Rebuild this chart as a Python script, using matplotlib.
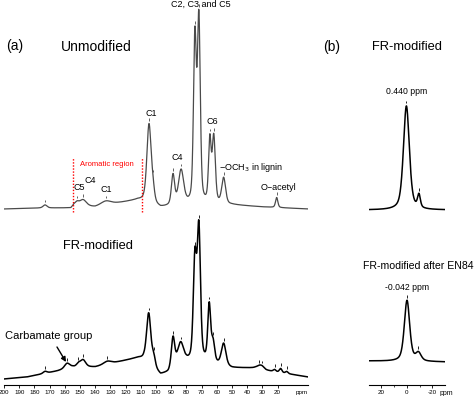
import numpy as np
import matplotlib.pyplot as plt

plt.rcParams['font.family'] = ['Liberation Sans', 'DejaVu Sans']

W, H = 474, 396

# ---- panel (a): 13C CP/MAS, unmodified (top trace) ----
unmod_base_ppm = [200, 175, 156, 154, 140, 125, 112, 108, 97, 92, 80, 68, 58, 50, 30, 0]
unmod_base_lvl = [176, 177, 177, 180, 178, 182, 185, 184, 177, 178, 180, 180, 180, 180, 178, 176]
unmod_pk_ppm = [173, 152, 148, 133, 104.6, 102, 88.8, 83.5, 74.4, 71.8, 64.6, 62.0, 55.5, 20.6]
unmod_pk_hgt = [3, 3, 6, 4, 78, 12, 30, 34, 164, 182, 62, 66, 26, 10]
unmod_pk_wid = [3, 3, 5, 8, 3.3, 2.5, 2.5, 4.0, 2.2, 2.2, 2.0, 2.4, 3.0, 1.8]
unmod_marks = [173, 152, 148, 133, 104.6, 102, 88.8, 83.5, 74.4, 71.8, 64.6, 62.0, 55.5, 20.6]

# ---- panel (a): FR-modified (bottom trace) ----
frm_base_ppm = [200, 185, 175, 165, 155, 140, 125, 112, 108, 97, 92, 86, 80, 68, 59, 50, 35, 25, 0]
frm_base_lvl = [6, 8, 11, 14, 18, 18, 23, 27, 26, 10, 12, 20, 23, 23, 20, 17, 17, 14, 8]
frm_pk_ppm = [173, 158.5, 151, 148, 132, 104.8, 101.5, 88.8, 83.8, 74.4, 71.8, 65.0, 62.5, 55.5, 32, 30, 22, 18, 14]
frm_pk_hgt = [2, 5, 3, 7, 3, 50, 10, 30, 20, 100, 130, 56, 20, 22, 3, 2, 2, 4, 2]
frm_pk_wid = [3, 4, 3, 4, 6, 3.3, 2.5, 2.6, 4.5, 2.5, 2.5, 2.2, 2.5, 3.5, 4, 3, 2, 2, 2]
frm_marks = [173, 158.5, 151, 148, 132, 104.8, 101.5, 88.8, 83.8, 74.4, 71.8, 65.0, 62.5, 55.5, 32, 30, 22, 18, 14]

# ---- panel (b): 31P, FR-modified and after EN84 ----
p_top_base_ppm = [30, -30]
p_top_base_lvl = [175, 175]
p_top_pk_ppm = [0.44, -9.4]
p_top_pk_hgt = [104, 13]
p_top_pk_wid = [5.5, 2.6]
p_top_marks = [0.44, -9.4]

p_bot_base_ppm = [30, -30]
p_bot_base_lvl = [24, 23]
p_bot_pk_ppm = [-0.042, -9.0]
p_bot_pk_hgt = [61, 8]
p_bot_pk_wid = [5, 5]
p_bot_marks = [-0.042, -9.0]

a_ticks = list(range(200, 10, -10))
b_ticks = [20, 0, -20]


def spectrum(x, base_ppm, base_lvl, pk_ppm, pk_hgt, pk_wid, eta=0.4):
    x = np.asarray(x, dtype=float)
    y = np.interp(x, base_ppm[::-1], base_lvl[::-1])
    for p, h, w in zip(pk_ppm, pk_hgt, pk_wid):
        d = (x - p) / (w / 2)
        y = y + h * ((1 - eta) * 2 ** (-d ** 2) + eta / (1 + d ** 2))
    return y


def draw_trace(ax, x, args, marks, color, lw, eta=0.4):
    ax.plot(x, spectrum(x, *args, eta=eta), color=color, lw=lw)
    ym = spectrum(marks, *args, eta=eta)
    ax.vlines(marks, ym + 2.5, ym + 5, color=color, lw=0.6)


def fx(px):
    return px / W


def fy(py):
    return 1 - py / H


fig = plt.figure(figsize=(W / 100, H / 100), dpi=100)

# panel a axes: 200 ppm at x=4px, 0 ppm at x=308px
ax_a = fig.add_axes([fx(4), fy(385), fx(304), 385 / H])
ax_b = fig.add_axes([fx(368.7), fy(385), fx(76.5), 385 / H])

xa = np.linspace(200, 0, 3000)
draw_trace(ax_a, xa, (unmod_base_ppm, unmod_base_lvl, unmod_pk_ppm, unmod_pk_hgt, unmod_pk_wid),
           unmod_marks, '#4a4a4a', 0.9)
draw_trace(ax_a, xa, (frm_base_ppm, frm_base_lvl, frm_pk_ppm, frm_pk_hgt, frm_pk_wid),
           frm_marks, 'black', 1.1)

xb = np.linspace(30, -30, 1000)
draw_trace(ax_b, xb, (p_top_base_ppm, p_top_base_lvl, p_top_pk_ppm, p_top_pk_hgt, p_top_pk_wid),
           p_top_marks, 'black', 1.1, eta=0.5)
draw_trace(ax_b, xb, (p_bot_base_ppm, p_bot_base_lvl, p_bot_pk_ppm, p_bot_pk_hgt, p_bot_pk_wid),
           p_bot_marks, 'black', 1.1, eta=0.5)

# aromatic region bounds
ax_a.vlines([154.8, 109.4], 173, 227, color='red', lw=1.0, linestyles=(0, (1, 1.2)))

for ax, lim, ticks in [(ax_a, (200, 0), a_ticks), (ax_b, (30, -30), b_ticks)]:
    ax.set_xlim(*lim)
    ax.set_ylim(0, 385)
    ax.set_xticks(ticks)
    ax.set_xticklabels([str(t) for t in ticks])
    ax.set_yticks([])
    for s in ['top', 'left', 'right']:
        ax.spines[s].set_visible(False)
    ax.spines['bottom'].set_linewidth(0.8)
    ax.tick_params(axis='x', labelsize=4.5, length=2.5, width=0.6, pad=1.2)
    ax.patch.set_visible(False)

ax_b.set_xticks([10, -10], minor=True)
ax_b.tick_params(axis='x', which='minor', length=1.5, width=0.5)
ax_a.text(fx(302 - 4) / fx(304), -0.012, 'ppm', transform=ax_a.transAxes,
          fontsize=4.5, ha='center', va='top')
ax_b.text(-31, -4.6, 'ppm', fontsize=5, ha='center', va='top', clip_on=False)

# titles
fig.text(fx(15), fy(46), '(a)', fontsize=10, ha='center', va='center')
fig.text(fx(96.5), fy(47), 'Unmodified', fontsize=10, ha='center', va='center')
fig.text(fx(97.5), fy(246), 'FR-modified', fontsize=9.3, ha='center', va='center')
fig.text(fx(332), fy(47), '(b)', fontsize=10, ha='center', va='center')
fig.text(fx(407), fy(47), 'FR-modified', fontsize=9.3, ha='center', va='center')
fig.text(fx(473.5), fy(266), 'FR-modified after EN84', fontsize=7.6, ha='right', va='center')

# peak labels
small = 6.5
fig.text(fx(201), fy(4), 'C2, C3 and C5', fontsize=small, ha='center', va='center')
fig.text(fx(151), fy(113), 'C1', fontsize=small, ha='center', va='center')
fig.text(fx(177), fy(158), 'C4', fontsize=small, ha='center', va='center')
fig.text(fx(212), fy(122), 'C6', fontsize=small, ha='center', va='center')
fig.text(fx(219), fy(167), '\u2212OCH$_3$ in lignin', fontsize=small, ha='left', va='center')
fig.text(fx(278), fy(187), 'O\u2212acetyl', fontsize=small, ha='center', va='center')
fig.text(fx(79), fy(188), 'C5', fontsize=small, ha='center', va='center')
fig.text(fx(90), fy(180), 'C4', fontsize=small, ha='center', va='center')
fig.text(fx(106), fy(189), 'C1', fontsize=small, ha='center', va='center')
fig.text(fx(107), fy(164), 'Aromatic region', fontsize=5.5, color='red', ha='center', va='center')
fig.text(fx(407), fy(91), '0.440 ppm', fontsize=6.2, ha='center', va='center')
fig.text(fx(407), fy(287), '-0.042 ppm', fontsize=6.2, ha='center', va='center')

fig.text(fx(49), fy(336), 'Carbamate group', fontsize=8, ha='center', va='center')
fig.add_artist(plt.Annotation('', xy=(fx(66), fy(362)), xytext=(fx(57), fy(347)),
                              xycoords='figure fraction', textcoords='figure fraction',
                              arrowprops=dict(arrowstyle='-|>', color='black', lw=1.0,
                                              mutation_scale=7, shrinkA=0, shrinkB=0)))

fig.savefig('out.png', dpi=100)
